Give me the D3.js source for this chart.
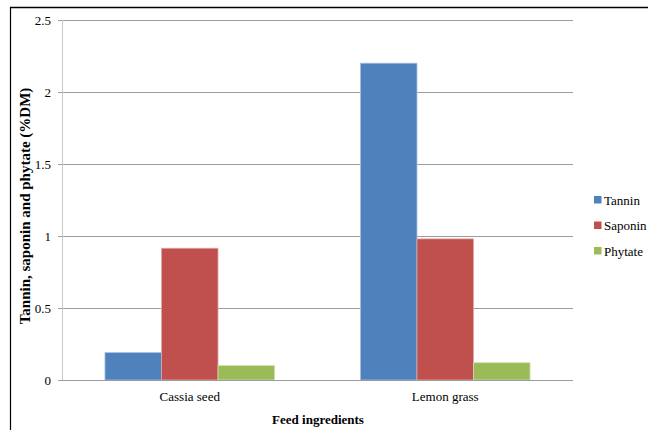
<!DOCTYPE html>
<html>
<head>
<meta charset="utf-8">
<script src="https://cdn.jsdelivr.net/npm/d3@7"></script>
<style>
  html, body { margin: 0; padding: 0; background: #fff; }
  svg { display: block; }
  text { font-family: "Liberation Serif", "Times New Roman", serif; fill: #000; }
</style>
</head>
<body>
<svg id="chart" width="648" height="430"></svg>
<script>
// Anti-nutritional factors in two feed ingredients (% dry matter)
const categories = ["Cassia seed", "Lemon grass"];
const seriesNames = ["Tannin", "Saponin", "Phytate"];
const tannin  = [0.19, 2.20];
const saponin = [0.915, 0.98];
const phytate = [0.10, 0.12];
const yTicks = [0, 0.5, 1, 1.5, 2, 2.5];
const colors = ["#4f81bd", "#c0504d", "#9bbb59"];
const edgeColors = ["#a7bfe0", "#e0a8a6", "#cde0ac"];

const values = [tannin, saponin, phytate];
const rows = categories.map((c, i) => ({
  category: c,
  items: seriesNames.map((s, j) => ({ series: s, value: values[j][i], idx: j }))
}));

const svg = d3.select("#chart");

// outer frame (top and left edges)
svg.append("line").attr("x1", 10).attr("x2", 648).attr("y1", 7.5).attr("y2", 7.5)
  .attr("stroke", "#000").attr("stroke-width", 1.5);
svg.append("line").attr("x1", 10.5).attr("x2", 10.5).attr("y1", 7).attr("y2", 430)
  .attr("stroke", "#000").attr("stroke-width", 1.2);

const plot = { left: 62, right: 573, top: 20, bottom: 380 };

const x = d3.scaleBand().domain(categories).range([plot.left, plot.right]).paddingInner(0).paddingOuter(0);
const xs = d3.scaleBand().domain(seriesNames).range([0, x.bandwidth()]).paddingInner(0).paddingOuter(0.76);
const y = d3.scaleLinear().domain([0, 2.5]).range([plot.bottom, plot.top]);

// horizontal gridlines
svg.append("g").selectAll("line").data(yTicks).join("line")
  .attr("x1", plot.left - 4).attr("x2", plot.right)
  .attr("y1", d => Math.round(y(d)) + 0.5).attr("y2", d => Math.round(y(d)) + 0.5)
  .attr("stroke", "#9c9c9c").attr("stroke-width", 1);

// y axis labels
const yAxis = d3.axisLeft(y).tickValues(yTicks).tickSize(0).tickPadding(11)
  .tickFormat(d => d3.format("")(d));
const gy = svg.append("g").attr("transform", `translate(${plot.left},0)`).call(yAxis);
gy.select(".domain").remove();
gy.selectAll("text").attr("font-size", 13).attr("font-family", "Liberation Serif, serif").attr("fill", "#222");

// bars
const groups = svg.append("g").selectAll("g").data(rows).join("g")
  .attr("transform", d => `translate(${x(d.category)},0)`);
groups.selectAll("rect").data(d => d.items).join("rect")
  .attr("x", d => xs(d.series))
  .attr("width", xs.bandwidth())
  .attr("y", d => y(d.value))
  .attr("height", d => y(0) - y(d.value))
  .attr("fill", d => colors[d.idx])
  .attr("stroke", d => edgeColors[d.idx])
  .attr("stroke-width", 0.8);

// y axis line
svg.append("line").attr("x1", plot.left + 0.5).attr("x2", plot.left + 0.5)
  .attr("y1", plot.top).attr("y2", plot.bottom)
  .attr("stroke", "#c8c8c8").attr("stroke-width", 1);
// baseline
svg.append("line").attr("x1", plot.left - 4).attr("x2", plot.right)
  .attr("y1", plot.bottom + 0.5).attr("y2", plot.bottom + 0.5)
  .attr("stroke", "#9c9c9c").attr("stroke-width", 1);

// x axis category labels
const xAxis = d3.axisBottom(x).tickSize(0).tickPadding(12);
const gx = svg.append("g").attr("transform", `translate(0,${plot.bottom})`).call(xAxis);
gx.select(".domain").remove();
gx.selectAll("text").attr("font-size", 13).attr("font-family", "Liberation Serif, serif").attr("fill", "#222");

// axis titles
svg.append("text").attr("x", 318).attr("y", 424).attr("text-anchor", "middle")
  .attr("font-size", 13).attr("font-weight", "bold").text("Feed ingredients");
svg.append("text").attr("transform", "translate(30,206) rotate(-90)")
  .attr("text-anchor", "middle").attr("font-size", 15).attr("font-weight", "bold")
  .text("Tannin, saponin and phytate (%DM)");

// legend
const legend = svg.append("g").attr("transform", "translate(594,200)");
const li = legend.selectAll("g").data(seriesNames).join("g")
  .attr("transform", (d, i) => `translate(0,${i * 25.5})`);
li.append("rect").attr("x", 0).attr("y", -4).attr("width", 7.5).attr("height", 7.5)
  .attr("fill", (d, i) => colors[i]);
li.append("text").attr("x", 10).attr("y", 0).attr("dy", "0.35em")
  .attr("font-size", 13).attr("fill", "#222").text(d => d);
</script>
</body>
</html>
